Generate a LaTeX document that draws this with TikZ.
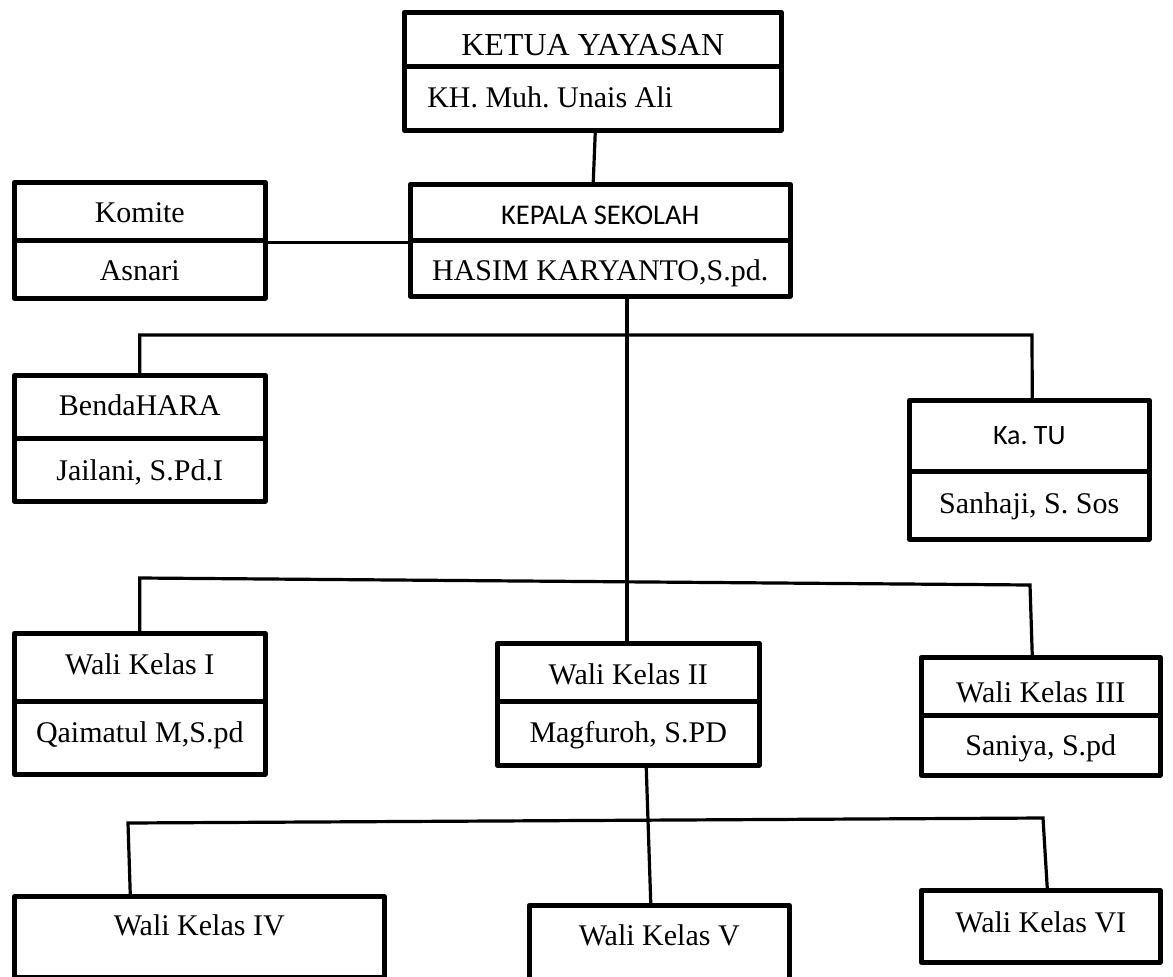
\documentclass[tikz,border=0pt]{standalone}
\usepackage{fontspec}
\setmainfont{Liberation Serif}
\newfontfamily\calib{Carlito}
\usetikzlibrary{calc}
\frenchspacing
\begin{document}
\begin{tikzpicture}[x=1pt,y=-1pt,
  box/.style={draw, line width=4.5pt, line join=round, inner sep=0pt, anchor=north west,
              font=\fontsize{30}{34}\selectfont},
  conn/.style={line width=3.2pt}]
\useasboundingbox (0,0) rectangle (1173,977);
\fill[white] (0,0) rectangle (1173,977);

% Ketua Yayasan
\node[box, font=\fontsize{32}{36}\selectfont, minimum width=377pt, text height=43pt, text depth=11pt] (ky) at (402,10) {KETUA YAYASAN};
\node[box, inner xsep=23pt, text height=41pt, text depth=23pt] (kyn) at (402,64) {\makebox[331pt][l]{KH. Muh. Unais Ali}};

% Kepala Sekolah
\node[box, font=\calib\fontsize{28.5}{32}\selectfont, minimum width=380pt, text height=40pt, text depth=16pt] (ks) at (408,182) {KEPALA SEKOLAH};
\node[box, minimum width=380pt, text height=40pt, text depth=16pt] (ksn) at (408,238) {HASIM KARYANTO,S.pd.};

% Komite
\node[box, minimum width=251pt, text height=40pt, text depth=18pt] (kom) at (12,180) {Komite};
\node[box, minimum width=251pt, text height=40pt, text depth=18pt] (komn) at (12,238) {Asnari};

% Bendahara
\node[box, minimum width=251pt, text height=40pt, text depth=23pt] (bd) at (12,373) {BendaHARA};
\node[box, minimum width=251pt, text height=42pt, text depth=21pt] (bdn) at (12,436) {Jailani, S.Pd.I};

% Ka. TU
\node[box, font=\calib\fontsize{28}{32}\selectfont, minimum width=240pt, text height=44pt, text depth=27pt] (tu) at (907,398) {Ka. TU};
\node[box, minimum width=240pt, text height=42pt, text depth=26pt] (tun) at (907,469) {Sanhaji, S. Sos};

% Wali Kelas I
\node[box, minimum width=251pt, text height=41pt, text depth=27pt] (w1) at (12,631) {Wali Kelas I};
\node[box, minimum width=251pt, text height=41pt, text depth=32pt] (w1n) at (12,699) {Qaimatul M,S.pd};

% Wali Kelas II
\node[box, minimum width=262pt, text height=41pt, text depth=17pt] (w2) at (495,641) {Wali Kelas II};
\node[box, minimum width=262pt, text height=41pt, text depth=23pt] (w2n) at (495,699) {Magfuroh, S.PD};

% Wali Kelas III
\node[box, minimum width=239pt, text height=45pt, text depth=13pt] (w3) at (919,655) {Wali Kelas III};
\node[box, minimum width=239pt, text height=40pt, text depth=20pt] (w3n) at (919,713) {Saniya, S.pd};

% Wali Kelas IV, V, VI
\node[box, minimum width=370pt, text height=39pt, text depth=42pt] (w4) at (12,894) {Wali Kelas IV};
\node[box, minimum width=260pt, text height=40pt, text depth=50pt] (w5) at (527,903) {Wali Kelas V};
\node[box, minimum width=239pt, text height=42pt, text depth=30pt] (w6) at (919,888) {Wali Kelas VI};

% junction coordinates
\coordinate (m) at (627,0);
\coordinate (h1L) at (138,335);
\coordinate (h1R) at (1032,335);
\coordinate (h2L) at (138,578);
\coordinate (h2R) at (1030,585);
\coordinate (h3L) at (128,823);
\coordinate (h3R) at (1043,818);

% connectors
\draw[conn] ($(kyn.south)+(2.5,0)$) -- ($(ks.north)+(-7,0)$);
\draw[conn] (kom.south east) -- (ks.south west);
\draw[conn] (ksn.south -| m) -- (w2.north -| m);
\draw[conn] (bd.north) -- (bd.north |- h1L) -- (h1R) -- ($(tu.north)+(3,0)$);
\draw[conn] (w1.north) -- (w1.north |- h2L) -- (h2R) -- ($(w3.north)+(-8.5,0)$);
\draw[conn] ($(w2n.south)+(18,0)$) -- ($(w5.north)+(-8.5,0)$);
\draw[conn] ($(w4.north)+(-69,0)$) -- (h3L) -- (h3R) -- ($(w6.north)+(6.5,0)$);
\end{tikzpicture}
\end{document}
